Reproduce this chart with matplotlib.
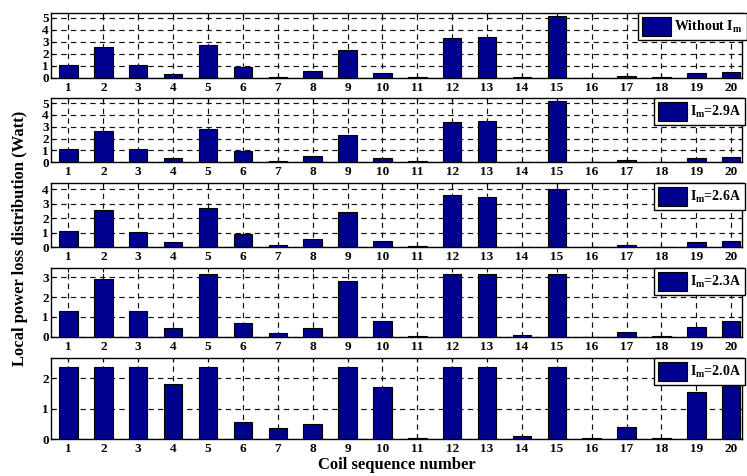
import numpy as np
import matplotlib
matplotlib.use("Agg")
import matplotlib.pyplot as plt

plt.rcParams["font.family"] = ["Liberation Serif", "DejaVu Serif"]
plt.rcParams["font.weight"] = "bold"
plt.rcParams["mathtext.fontset"] = "custom"
plt.rcParams["mathtext.rm"] = "Liberation Serif:bold"
plt.rcParams["mathtext.bf"] = "Liberation Serif:bold"
plt.rcParams["mathtext.it"] = "Liberation Serif:bold"

# Coil index and loss per coil (W) for each magnetizing-current case
coils = list(range(1, 21))
without_im = [1.03, 2.55, 1.10, 0.30, 2.72, 0.92, 0.10, 0.58, 2.30, 0.40,
              0.08, 3.28, 3.39, 0.02, 5.17, 0.01, 0.15, 0.02, 0.40, 0.47]
im_29 = [1.09, 2.60, 1.09, 0.37, 2.80, 0.97, 0.10, 0.57, 2.33, 0.40,
         0.08, 3.36, 3.47, 0.02, 5.20, 0.02, 0.20, 0.02, 0.40, 0.46]
im_26 = [1.12, 2.57, 1.05, 0.37, 2.73, 0.92, 0.16, 0.57, 2.43, 0.43,
         0.08, 3.60, 3.47, 0.02, 4.00, 0.02, 0.14, 0.02, 0.37, 0.43]
im_23 = [1.30, 2.91, 1.30, 0.44, 3.15, 0.69, 0.20, 0.44, 2.81, 0.79,
         0.02, 3.17, 3.17, 0.10, 3.17, 0.01, 0.24, 0.05, 0.50, 0.79]
im_20 = [2.37, 2.37, 2.37, 1.80, 2.37, 0.55, 0.35, 0.50, 2.37, 1.72,
         0.02, 2.37, 2.37, 0.10, 2.37, 0.02, 0.40, 0.02, 1.55, 1.90]

series = [without_im, im_29, im_26, im_23, im_20]
labels = [r"Without $\mathbf{I_m}$", r"$\mathbf{I_m}$=2.9A", r"$\mathbf{I_m}$=2.6A",
          r"$\mathbf{I_m}$=2.3A", r"$\mathbf{I_m}$=2.0A"]
y_max = [5.42, 5.45, 4.43, 3.45, 2.66]
y_ticks = [[0, 1, 2, 3, 4, 5], [0, 1, 2, 3, 4, 5], [0, 1, 2, 3, 4],
           [0, 1, 2, 3], [0, 1, 2]]

W, H = 747, 476
fig = plt.figure(figsize=(W / 100, H / 100), dpi=100)

# panel extents in pixels: (top, bottom)
panels = [(12.7, 77.7), (97.7, 162.3), (183.0, 247.3), (268.3, 336.7), (358.0, 439.0)]
left_px, right_px = 51.0, 741.7
legend_left = [638, 654, 654, 654, 654]

bar_color = "#00008F"
for i, (top, bot) in enumerate(panels):
    ax = fig.add_axes([left_px / W, 1 - bot / H, (right_px - left_px) / W, (bot - top) / H])
    ax.bar(coils, series[i], width=0.53, color=bar_color, edgecolor="black",
           linewidth=0.8, label=labels[i], zorder=3)
    ax.set_xlim(0.5, 20.3)
    ax.set_ylim(0, y_max[i])
    ax.set_xticks(coils)
    ax.set_yticks(y_ticks[i])
    ax.grid(True, color="#111111", linestyle=(0, (4.6, 3.6)), linewidth=0.85, zorder=0)
    ax.set_axisbelow(True)
    ax.tick_params(direction="in", top=True, right=True, length=3, width=0.8,
                   labelsize=9.5, pad=3)
    ax.tick_params(axis="y", pad=1.5)
    for lab in ax.get_xticklabels() + ax.get_yticklabels():
        lab.set_fontweight("bold")
    for s in ax.spines.values():
        s.set_linewidth(1.0)
    leg = ax.legend(loc="upper left",
                    bbox_to_anchor=(legend_left[i] / W, 1 - top / H),
                    bbox_transform=fig.transFigure,
                    fancybox=False, edgecolor="black", framealpha=1,
                    fontsize=10, handlelength=2.1, handleheight=1.7,
                    handletextpad=0.2, borderpad=0.3, borderaxespad=0)
    leg.get_frame().set_linewidth(1.0)
    leg.set_zorder(5)

fig.text(20 / W, 1 - 238 / H, "Local power loss distribution (Watt)", rotation=90,
         ha="center", va="center", fontsize=12, fontweight="bold")
fig.text(397 / W, 1 - 465 / H, "Coil sequence number", ha="center", va="center",
         fontsize=12, fontweight="bold")

fig.savefig("out.png", dpi=100)
